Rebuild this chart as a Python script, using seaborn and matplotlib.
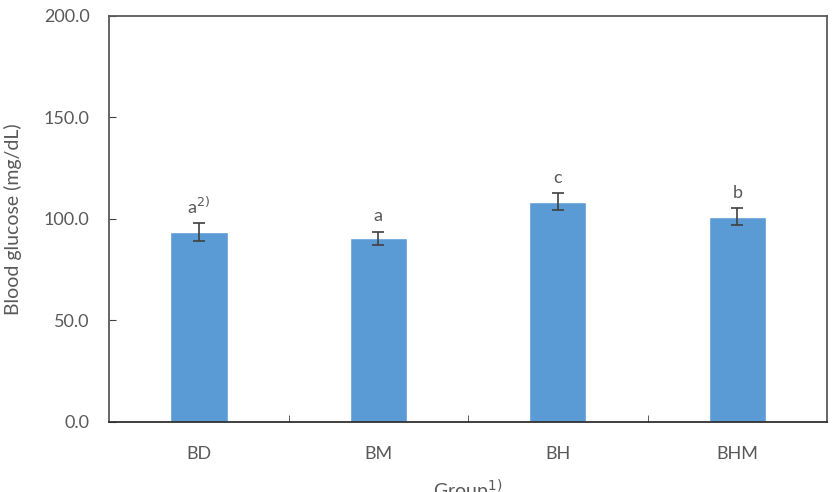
import pandas as pd
import matplotlib.pyplot as plt
import seaborn as sns
from matplotlib.ticker import FixedLocator

# data
groups = ['BD', 'BM', 'BH', 'BHM']
glucose = [93.6, 90.6, 108.4, 101.0]
sd = [4.2, 3.2, 4.2, 4.2]
letters = ['a', 'a', 'c', 'b']

df = pd.DataFrame({'Group': groups, 'Glucose': glucose})

sns.set_style('white')
plt.rcParams['font.family'] = ['Lato', 'DejaVu Sans']
grey = '#595959'

fig = plt.figure(figsize=(8.33, 4.92), dpi=100)
ax = fig.add_axes([0.1309, 0.1423, 0.8619, 0.8252])

sns.barplot(x='Group', y='Glucose', data=df, color='#5b9bd5', width=0.32,
            saturation=1, errorbar=None, ax=ax)
ax.errorbar(range(len(groups)), glucose, yerr=sd, fmt='none', ecolor='#404040',
            elinewidth=1.2, capsize=4, capthick=1.2)

# significance letters
for i, (v, e, l) in enumerate(zip(glucose, sd, letters)):
    txt = l + '$^{2)}$' if i == 0 else l
    ax.text(i, v + e + 3.5, txt, ha='center', va='bottom', fontsize=13, color=grey)

ax.set_ylim(0, 200)
ax.set_xlim(-0.5, 3.5)
ax.set_yticks([0, 50, 100, 150, 200])
ax.set_yticklabels([f'{t:.1f}' for t in [0, 50, 100, 150, 200]], fontsize=13, color=grey)
ax.set_xticks(range(len(groups)))
ax.set_xticklabels(groups, fontsize=13, color=grey)
ax.xaxis.set_minor_locator(FixedLocator([0.5, 1.5, 2.5]))
ax.tick_params(axis='x', which='major', length=0, pad=17)
ax.tick_params(axis='x', which='minor', direction='in', length=5, color='#404040', bottom=True)
ax.tick_params(axis='y', direction='in', length=5, color='#404040', left=True, pad=14)

ax.set_ylabel('Blood glucose (mg/dL)', fontsize=14, color=grey)
ax.yaxis.label.set_verticalalignment('center')
ax.yaxis.set_label_coords(-0.134, 0.5)
ax.set_xlabel('Group$^{1)}$', fontsize=14, color=grey, labelpad=12)

for s in ax.spines.values():
    s.set_visible(True)
    s.set_color('#595959')
    s.set_linewidth(1.3)
ax.spines['bottom'].set_color('#303030')

plt.savefig('out.png', dpi=100)
